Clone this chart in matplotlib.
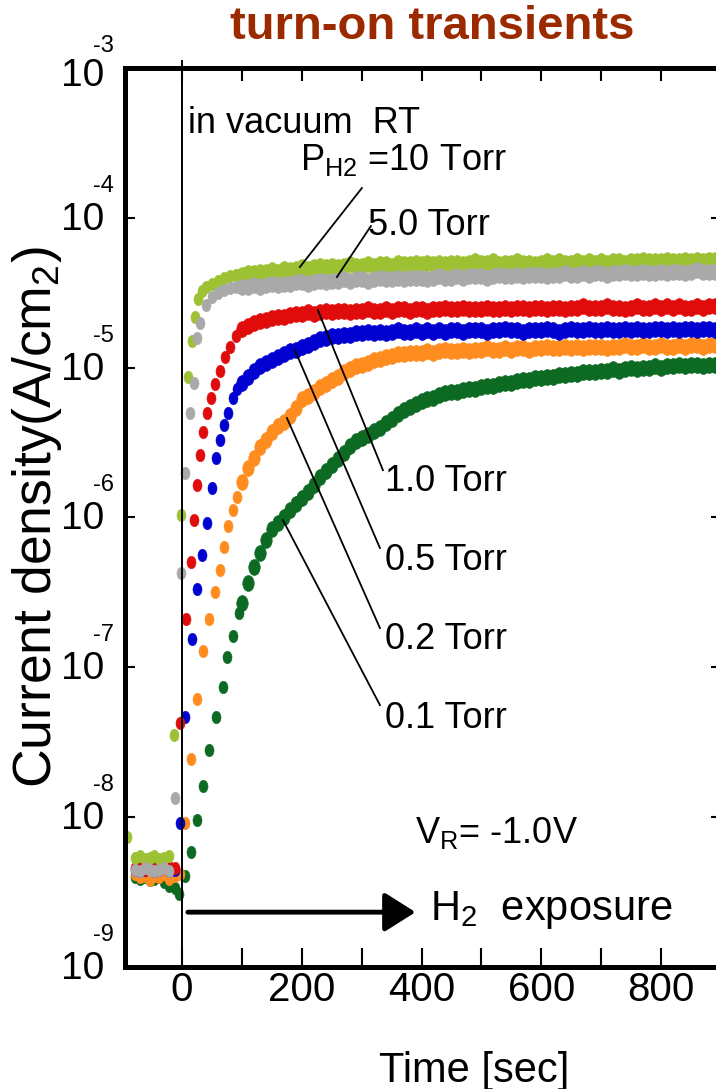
import numpy as np
import matplotlib
matplotlib.use("Agg")
import matplotlib.pyplot as plt
from matplotlib.path import Path
from matplotlib.transforms import Affine2D, offset_copy
from matplotlib.ticker import NullLocator

plt.rcParams['font.family'] = ['Liberation Sans', 'DejaVu Sans']
plt.rcParams['mathtext.fontset'] = 'custom'
plt.rcParams['mathtext.rm'] = 'Liberation Sans'
plt.rcParams['mathtext.it'] = 'Liberation Sans:italic'
plt.rcParams['mathtext.bf'] = 'Liberation Sans:bold'

# ---------------- data (log10 of current density, A/cm2) ----------------
plateau_t = list(range(100, 900, 10))

t_10 = [-92, -78, -70, -62, -54, -46, -38, -30, -22, -14, -2, 10, 17, 22, 27, 33, 40, 50, 60, 70, 80, 90]
logj_10_early = [-8.13, -8.27, -8.26, -8.28, -8.27, -8.26, -8.28, -8.27, -8.26, -7.45, -5.98,
                 -5.06, -4.82, -4.66, -4.54, -4.49, -4.46, -4.44, -4.42, -4.40, -4.39, -4.38]
logj_10_plateau = [
    -4.38, -4.37, -4.37, -4.36, -4.36, -4.35, -4.36, -4.34, -4.35, -4.34,
    -4.33, -4.34, -4.33, -4.32, -4.33, -4.32, -4.33, -4.32, -4.31, -4.32,
    -4.32, -4.31, -4.32, -4.31, -4.31, -4.32, -4.30, -4.31, -4.31, -4.30,
    -4.31, -4.30, -4.31, -4.30, -4.31, -4.30, -4.30, -4.31, -4.30, -4.29,
    -4.30, -4.30, -4.29, -4.31, -4.30, -4.30, -4.29, -4.30, -4.30, -4.31,
    -4.30, -4.29, -4.30, -4.29, -4.30, -4.30, -4.29, -4.30, -4.29, -4.30,
    -4.29, -4.30, -4.29, -4.29, -4.30, -4.29, -4.29, -4.28, -4.29, -4.29,
    -4.29, -4.28, -4.29, -4.29, -4.28, -4.29, -4.28, -4.29, -4.28, -4.28]

t_5 = [-78, -70, -62, -54, -46, -38, -30, -22, -12, -2, 5, 13, 20, 25, 30, 40, 50, 60, 70, 80, 90]
logj_5_early = [-8.35, -8.36, -8.34, -8.35, -8.36, -8.35, -8.34, -8.36, -7.87, -6.37, -5.70,
                -5.30, -5.10, -4.80, -4.70, -4.58, -4.53, -4.50, -4.48, -4.47, -4.46]
logj_5_plateau = [
    -4.46, -4.46, -4.45, -4.46, -4.45, -4.44, -4.45, -4.44, -4.44, -4.43,
    -4.43, -4.44, -4.43, -4.42, -4.43, -4.42, -4.42, -4.41, -4.42, -4.41,
    -4.41, -4.42, -4.41, -4.40, -4.41, -4.41, -4.40, -4.41, -4.40, -4.40,
    -4.40, -4.41, -4.40, -4.39, -4.40, -4.40, -4.39, -4.40, -4.39, -4.39,
    -4.39, -4.40, -4.39, -4.38, -4.39, -4.39, -4.38, -4.39, -4.38, -4.38,
    -4.38, -4.39, -4.38, -4.38, -4.37, -4.38, -4.38, -4.37, -4.38, -4.37,
    -4.37, -4.38, -4.37, -4.37, -4.36, -4.37, -4.37, -4.36, -4.37, -4.37,
    -4.36, -4.37, -4.36, -4.36, -4.37, -4.36, -4.35, -4.36, -4.36, -4.36]

t_1 = [-78, -70, -62, -54, -46, -38, -30, -22, -12, -3, 7, 15, 20, 25, 30, 36, 42, 48, 55, 63, 72, 80, 90]
logj_1_early = [-8.34, -8.33, -8.35, -8.34, -8.33, -8.35, -8.34, -8.33, -8.34, -7.37, -6.68, -6.30,
                -6.02, -5.78, -5.58, -5.43, -5.30, -5.20, -5.11, -5.02, -4.93, -4.86, -4.79]
logj_1_plateau = [
    -4.74, -4.72, -4.70, -4.69, -4.68, -4.67, -4.66, -4.66, -4.65, -4.64,
    -4.64, -4.63, -4.64, -4.63, -4.62, -4.63, -4.62, -4.62, -4.63, -4.62,
    -4.62, -4.61, -4.62, -4.62, -4.61, -4.62, -4.61, -4.61, -4.62, -4.61,
    -4.61, -4.62, -4.61, -4.61, -4.60, -4.61, -4.61, -4.60, -4.61, -4.61,
    -4.61, -4.60, -4.61, -4.61, -4.60, -4.61, -4.60, -4.60, -4.61, -4.60,
    -4.60, -4.61, -4.60, -4.60, -4.61, -4.60, -4.60, -4.59, -4.60, -4.60,
    -4.60, -4.59, -4.60, -4.60, -4.61, -4.60, -4.59, -4.60, -4.60, -4.59,
    -4.60, -4.59, -4.60, -4.59, -4.60, -4.60, -4.59, -4.60, -4.59, -4.59]

t_05 = [-78, -70, -62, -54, -46, -38, -30, -22, -12, -3, 5, 17, 25, 33, 42, 50, 57, 63, 70, 77, 85, 92]
logj_05_early = [-8.35, -8.36, -8.35, -8.34, -8.36, -8.35, -8.34, -8.36, -8.35, -8.04, -7.33,
                 -6.81, -6.48, -6.25, -6.04, -5.80, -5.60, -5.48, -5.38, -5.30, -5.20, -5.14]
logj_05_plateau = [
    -5.10, -5.06, -5.02, -4.99, -4.97, -4.95, -4.93, -4.91, -4.89, -4.88,
    -4.86, -4.85, -4.83, -4.81, -4.80, -4.79, -4.79, -4.78, -4.78, -4.77,
    -4.77, -4.76, -4.77, -4.76, -4.77, -4.76, -4.75, -4.76, -4.76, -4.75,
    -4.76, -4.75, -4.76, -4.75, -4.76, -4.75, -4.75, -4.76, -4.75, -4.75,
    -4.75, -4.76, -4.75, -4.75, -4.74, -4.75, -4.75, -4.76, -4.75, -4.75,
    -4.75, -4.74, -4.75, -4.76, -4.75, -4.74, -4.75, -4.75, -4.74, -4.75,
    -4.75, -4.74, -4.75, -4.75, -4.74, -4.75, -4.74, -4.75, -4.75, -4.74,
    -4.74, -4.75, -4.74, -4.75, -4.74, -4.74, -4.75, -4.74, -4.74, -4.75]

t_02 = [-78, -70, -62, -54, -46, -38, -30, -22, -12, -4, 5, 16, 25, 35, 45, 55, 63, 70, 77, 85, 92]
logj_02_early = [-8.38, -8.40, -8.39, -8.42, -8.39, -8.40, -8.38, -8.41, -8.39, -8.38, -8.04,
                 -7.61, -7.21, -6.89, -6.68, -6.50, -6.35, -6.20, -6.06, -5.95, -5.86]
logj_02_plateau = [
    -5.76, -5.67, -5.60, -5.53, -5.48, -5.43, -5.39, -5.36, -5.32, -5.27,
    -5.21, -5.19, -5.16, -5.13, -5.11, -5.08, -5.06, -5.03, -5.01, -4.99,
    -4.98, -4.97, -4.95, -4.94, -4.93, -4.92, -4.91, -4.91, -4.90, -4.90,
    -4.90, -4.89, -4.90, -4.89, -4.88, -4.89, -4.89, -4.88, -4.89, -4.88,
    -4.88, -4.87, -4.88, -4.88, -4.87, -4.88, -4.87, -4.87, -4.88, -4.87,
    -4.87, -4.86, -4.87, -4.87, -4.86, -4.87, -4.86, -4.87, -4.86, -4.86,
    -4.86, -4.87, -4.86, -4.86, -4.85, -4.86, -4.86, -4.85, -4.86, -4.86,
    -4.85, -4.86, -4.86, -4.85, -4.86, -4.85, -4.85, -4.86, -4.85, -4.85]

t_01 = [-78, -70, -62, -54, -46, -38, -30, -22, -12, -5, 5, 15, 25, 35, 45, 57, 68, 75, 85, 95]
logj_01_early = [-8.40, -8.41, -8.40, -8.42, -8.41, -8.40, -8.43, -8.46, -8.47, -8.51,
                 -8.39, -8.23, -8.02, -7.79, -7.55, -7.33, -7.13, -6.93, -6.79, -6.64]
logj_01_plateau = [
    -6.57, -6.44, -6.33, -6.24, -6.15, -6.08, -6.04, -6.00, -5.95, -5.91,
    -5.87, -5.83, -5.78, -5.73, -5.69, -5.65, -5.61, -5.57, -5.52, -5.49,
    -5.47, -5.45, -5.42, -5.40, -5.37, -5.34, -5.31, -5.28, -5.26, -5.24,
    -5.22, -5.21, -5.20, -5.18, -5.17, -5.16, -5.16, -5.15, -5.14, -5.14,
    -5.13, -5.12, -5.12, -5.11, -5.10, -5.10, -5.09, -5.08, -5.08, -5.07,
    -5.07, -5.06, -5.06, -5.05, -5.05, -5.04, -5.04, -5.03, -5.03, -5.03,
    -5.02, -5.02, -5.01, -5.02, -5.01, -5.00, -5.01, -5.00, -5.00, -4.99,
    -5.00, -4.99, -4.99, -4.98, -4.99, -4.98, -4.98, -4.99, -4.98, -4.98]

pressure_labels = ["0.1 Torr", "0.2 Torr", "0.5 Torr", "1.0 Torr", "10 Torr", "5.0 Torr"]
series_t = [t_01, t_02, t_05, t_1, t_10, t_5]
series_early = [logj_01_early, logj_02_early, logj_05_early, logj_1_early, logj_10_early, logj_5_early]
series_plateau = [logj_01_plateau, logj_02_plateau, logj_05_plateau, logj_1_plateau,
                  logj_10_plateau, logj_5_plateau]
series_colors = ["#0c6a22", "#ff8c1e", "#0000d0", "#e00c0c", "#9cc133", "#a9a9a9"]

yticks_exp = [-9, -8, -7, -6, -5, -4, -3]
xticks = [0, 100, 200, 300, 400, 500, 600, 700, 800, 900]
xticklabels = ["0", "", "200", "", "400", "", "600", "", "800", ""]

# ---------------- figure ----------------
W, H = 716, 1089
fig = plt.figure(figsize=(W / 100, H / 100), dpi=100)
ax_left, ax_right, ax_top, ax_bottom = 125, 721, 68, 967
ax = fig.add_axes([ax_left / W, (H - ax_bottom) / H, (ax_right - ax_left) / W, (ax_bottom - ax_top) / H])
ax.set_yscale('log')
ax.set_xlim(-95, 900)
ax.set_ylim(1e-9, 1e-3)

ell = Path.unit_circle().transformed(Affine2D().scale(0.72, 1.0))
for t, e, p, c in zip(series_t, series_early, series_plateau, series_colors):
    ax.plot(np.array(t, dtype=float), 10.0 ** np.array(e), linestyle='none', marker=ell,
            ms=9, mfc=c, mec=c, mew=0.4, zorder=2)
    ax.plot(np.array(plateau_t, dtype=float), 10.0 ** np.array(p), linestyle='none', marker=ell,
            ms=11.5, mfc=c, mec=c, mew=0.4, zorder=2)

ax.axvline(0, ymin=0, ymax=1.008, color='k', lw=1.4, zorder=4, clip_on=False)

for s in ax.spines.values():
    s.set_linewidth(3.6)

ax.set_xticks(xticks)
ax.set_xticklabels(xticklabels)
ax.tick_params(axis='x', which='major', direction='in', length=14, width=1.5,
               top=False, bottom=True, labelsize=29, pad=3)
sec = ax.secondary_xaxis('top')
sec.set_xticks(xticks)
sec.tick_params(axis='x', direction='in', length=9.5, width=1.5, labeltop=False)
sec.spines['top'].set_linewidth(3.6)

ax.set_yticks([10.0 ** e for e in yticks_exp])
ax.yaxis.set_minor_locator(NullLocator())
ax.set_yticklabels([])
ax.tick_params(axis='y', which='major', direction='in', length=7, width=1.5, left=True, right=True)

# y tick labels as "10" with raised exponent
ytr = ax.get_yaxis_transform()
x10 = (104 - ax_left) / (ax_right - ax_left)
xexp = (93 - ax_left) / (ax_right - ax_left)
for e in yticks_exp:
    base_off = -18 if e == -3 else -12
    exp_off = 16 if e == -3 else 26
    ax.text(x10, 10.0 ** e, "10", fontsize=28, ha='right', va='baseline',
            transform=offset_copy(ytr, fig=fig, y=base_off, units='dots'), clip_on=False)
    ax.text(xexp, 10.0 ** e, "%d" % e, fontsize=17, ha='left', va='baseline',
            transform=offset_copy(ytr, fig=fig, y=exp_off, units='dots'), clip_on=False)

# titles / axis labels
fig.text(432 / W, 1 - 39 / H, "turn-on transients", fontsize=34, fontweight='bold',
         color='#9c2a00', ha='center', va='baseline')
fig.text(474 / W, 1 - 1082 / H, "Time [sec]", fontsize=30, ha='center', va='baseline')
fig.text(37 / W, 1 - 517 / H, "Current density(A/cm$_2$)", fontsize=38.5, rotation=90,
         ha='center', va='center')

# annotations (data coordinates: time, current density)
def L(v):
    return 10.0 ** v

ax.text(10, L(-3.434), "in vacuum  RT", fontsize=26, ha='left', va='baseline')
ax.text(197, L(-3.681), r"P$_{\mathrm{H2}}$ =10 Torr", fontsize=26, ha='left', va='baseline')
ax.text(310, L(-4.115), "5.0 Torr", fontsize=26, ha='left', va='baseline')
ax.text(339, L(-5.824), "1.0 Torr", fontsize=26, ha='left', va='baseline')
ax.text(339, L(-6.351), "0.5 Torr", fontsize=26, ha='left', va='baseline')
ax.text(339, L(-6.878), "0.2 Torr", fontsize=26, ha='left', va='baseline')
ax.text(339, L(-7.406), "0.1 Torr", fontsize=26, ha='left', va='baseline')
ax.text(389, L(-8.174), r"V$_{\mathrm{R}}$= -1.0V", fontsize=26, ha='left', va='baseline')
ax.text(414, L(-8.688), r"H$_2$  exposure", fontsize=30, ha='left', va='baseline')

ax.annotate("", xy=(390, L(-8.634)), xytext=(10, L(-8.634)),
            arrowprops=dict(arrowstyle='-|>,head_length=0.38,head_width=0.24',
                            mutation_scale=50, lw=3.5, color='k', shrinkA=0, shrinkB=0))

leaders = [((300.5, -3.801), (197, -4.328)),
           ((315.5, -4.055), (258.8, -4.395)),
           ((227, -4.616), (335.6, -5.684)),
           ((188.6, -4.883), (330.6, -6.204)),
           ((175.3, -5.336), (330.6, -6.738)),
           ((168.6, -6.017), (330.6, -7.252))]
for (xa, ya), (xb, yb) in leaders:
    ax.plot([xa, xb], [L(ya), L(yb)], color='k', lw=1.3, zorder=3)

fig.savefig("out.png", dpi=100)
